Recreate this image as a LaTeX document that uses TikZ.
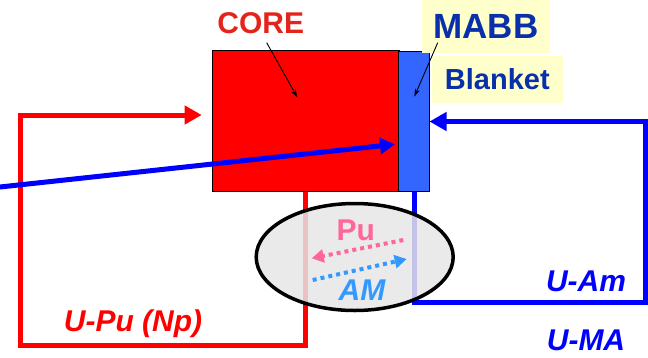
\documentclass[tikz,border=0pt]{standalone}
\usepackage{fontspec}
\setmainfont{Liberation Sans}
\usetikzlibrary{arrows.meta,shapes.geometric}
\definecolor{corered}{HTML}{FF0000}
\definecolor{coretext}{HTML}{E3241B}
\definecolor{blanketblue}{HTML}{3366FF}
\definecolor{lineblue}{HTML}{0000FF}
\definecolor{labelblue}{HTML}{0A2FAA}
\definecolor{notebg}{HTML}{FFFFCC}
\definecolor{pupink}{HTML}{FF6699}
\definecolor{amblue}{HTML}{3399FF}
\definecolor{ellgray}{HTML}{E6E6E6}
\begin{document}
\begin{tikzpicture}[x=1pt,y=-1pt,
  big/.style={font=\fontsize{30}{36}\selectfont\bfseries,inner sep=0pt},
  bigit/.style={font=\fontsize{30}{36}\selectfont\bfseries\itshape,inner sep=0pt},
  flow/.style={line width=5pt,-{Triangle[length=17pt,width=18pt]}},
  thinflow/.style={line width=5pt,-{Triangle[length=15pt,width=16pt]}},
  dotflow/.style={line width=4pt,dash pattern=on 4pt off 4pt,-{Triangle[length=12pt,width=13pt]}},
  pointer/.style={line width=0.9pt,-{Stealth[length=8pt,width=5pt]}},
  block/.style={draw=black,line width=0.8pt,inner sep=0pt,outer sep=0pt},
  note/.style={fill=notebg,inner sep=0pt,text=labelblue}
]
\useasboundingbox (0,0) rectangle (648,357);
% core and blanket
\node[block,fill=corered,minimum width=187pt,minimum height=141pt] (core) at (305.5,121) {};
\node[block,fill=blanketblue,minimum width=31pt,minimum height=140pt] (blanket) at (414,121.5) {};
% coordinates
\coordinate (rl1) at (20,345.7);
\coordinate (rin) at (201.7,115);
\coordinate (bl1) at (645,302.3);
\coordinate (bstart) at (0,187);
\coordinate (bend) at (395,144.3);
% loops
\draw[corered,flow] (core.south) |- (rl1) |- (rin);
\draw[lineblue,flow] (blanket.south) |- (bl1) |- (blanket.east);
% separation ellipse
\node[ellipse,draw=black,line width=3.5pt,fill=ellgray,fill opacity=0.85,
      minimum width=197pt,minimum height=107pt,inner sep=0pt] (sep) at (354.7,257) {};
% blue feed arrow
\draw[lineblue,thinflow] (bstart) -- (bend);
% labels with notes
\node[note,minimum width=128pt,minimum height=52.7pt,
      font=\fontsize{35}{40}\selectfont\bfseries] (mabb) at (486,26.3) {MABB};
\node[note,minimum width=131pt,minimum height=46.7pt,
      font=\fontsize{29}{34}\selectfont\bfseries] (blk) at (497.3,79.3) {Blanket};
\node[big,text=coretext,anchor=base] (coretxt) at (260.8,33.3) {CORE};
% pointers
\coordinate (ctail) at (266.7,42.7);
\coordinate (chead) at (297.3,97.3);
\coordinate (mtail) at (437.7,42.7);
\coordinate (mhead) at (414.3,96.7);
\draw[pointer] (ctail) -- (chead);
\draw[pointer] (mtail) -- (mhead);
% exchange inside ellipse
\node[big,text=pupink,anchor=base] (pu) at (355.8,240) {Pu};
\node[bigit,text=amblue,anchor=base] (am) at (362,300) {AM};
\coordinate (pus) at (403.3,240);
\coordinate (pue) at (311.7,258.3);
\coordinate (ams) at (312.7,280);
\coordinate (ame) at (406.7,259);
\draw[pupink,dotflow] (pus) -- (pue);
\draw[amblue,dotflow] (ams) -- (ame);
% flow labels
\node[bigit,text=corered,anchor=base] (upu) at (133,331.7) {U-Pu (Np)};
\node[bigit,text=lineblue,anchor=base] (uam) at (586,291.7) {U-Am};
\node[bigit,text=lineblue,anchor=base] (uma) at (586,350) {U-MA};
\end{tikzpicture}
\end{document}
